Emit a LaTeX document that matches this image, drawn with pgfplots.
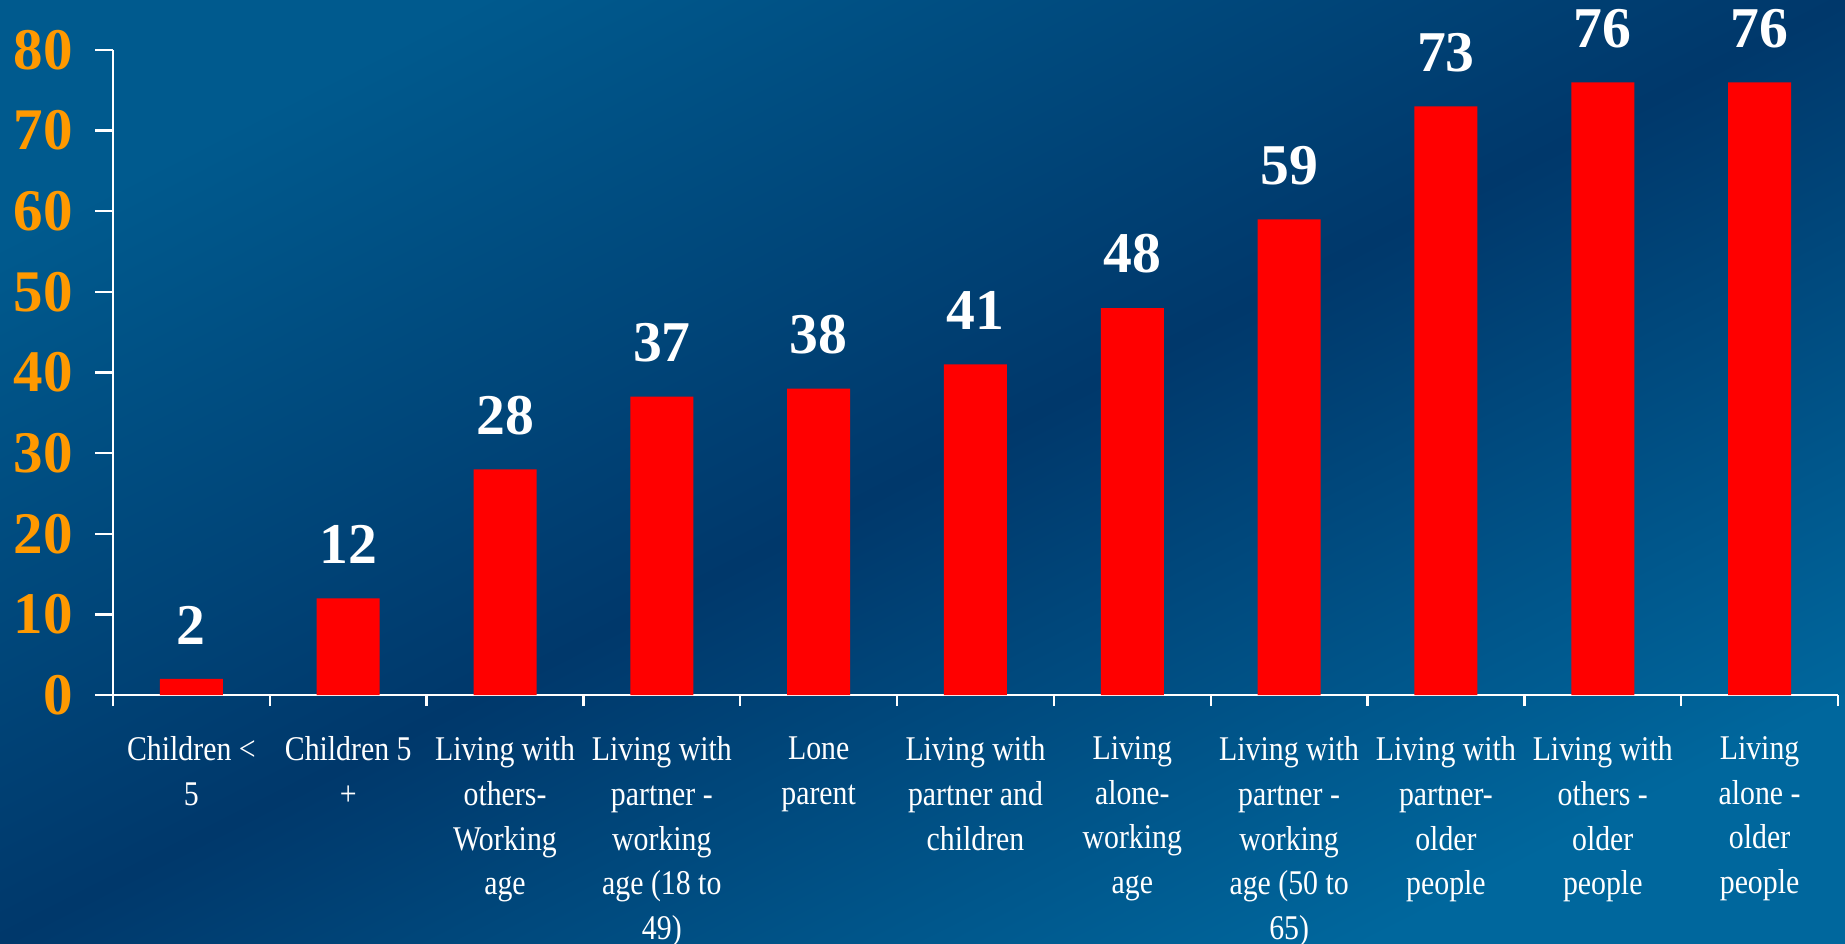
\documentclass[border=0pt]{standalone}
\usepackage{fontspec}
\setmainfont{Liberation Serif}
\newfontfamily\labfont[FakeStretch=0.86]{Liberation Serif}
\newfontfamily\numfont{Liberation Serif}
\usepackage{pgfplots}
\pgfplotsset{compat=1.18}
\definecolor{bgtl}{HTML}{005A8E}
\definecolor{bgmid}{HTML}{00386B}
\definecolor{bgbr}{HTML}{00679D}
\definecolor{tickorange}{HTML}{FF9900}
\definecolor{barred}{HTML}{FF0000}

\begin{document}
\begin{tikzpicture}[x=0.3pt,y=0.3pt]
\shade[top color=bgtl, bottom color=bgbr, middle color=bgmid, shading angle=27]
  (0,0) rectangle (1845,943);
\begin{axis}[
    at={(33.9pt,74.4pt)},
    anchor=south west,
    scale only axis,
    width=517.5pt,
    height=193.5pt,
    ybar,
    bar width=18.9pt,
    xmin=0.5, xmax=11.5,
    ymin=0, ymax=80,
    clip=false,
    axis x line*=bottom,
    axis y line*=left,
    axis line style={white, line width=0.7pt},
    tick style={white, line width=0.7pt},
    tick align=outside,
    major tick length=5.3pt,
    xtick style={/pgfplots/major tick length=3.3pt},
    ytick={0,10,20,30,40,50,60,70,80},
    xtick={0.5,1.5,2.5,3.5,4.5,5.5,6.5,7.5,8.5,9.5,10.5,11.5},
    xticklabels={
        {Children <\\5},
        {Children 5\\+},
        {Living with\\others-\\Working\\age},
        {Living with\\partner -\\working\\age (18 to\\49)},
        {Lone\\parent},
        {Living with\\partner and\\children},
        {Living\\alone-\\working\\age},
        {Living with\\partner -\\working\\age (50 to\\65)},
        {Living with\\partner-\\older\\people},
        {Living with\\others -\\older\\people},
        {Living\\alone -\\older\\people},
        {}},
    xticklabel style={font=\labfont\fontsize{10.4}{13.4}\selectfont, text=white,
        align=center, anchor=north, inner sep=0pt, xshift=23.52pt, yshift=-7pt},
    yticklabel style={font=\numfont\bfseries\fontsize{17.7}{20}\selectfont,
        text=tickorange, anchor=east, inner sep=0pt, xshift=-6.5pt},
    /pgf/number format/assume math mode=true,
    nodes near coords,
    every node near coord/.append style={font=\numfont\bfseries\fontsize{17.3}{19}\selectfont,
        text=white, anchor=south, inner sep=0pt, yshift=10.2pt},
]
\addplot[fill=barred, draw=none] coordinates {
    (1,2) (2,12) (3,28) (4,37) (5,38) (6,41)
    (7,48) (8,59) (9,73) (10,76) (11,76)
};
\end{axis}
\pgfresetboundingbox
\useasboundingbox (0,0) rectangle (1845,943);
\end{tikzpicture}
\end{document}
